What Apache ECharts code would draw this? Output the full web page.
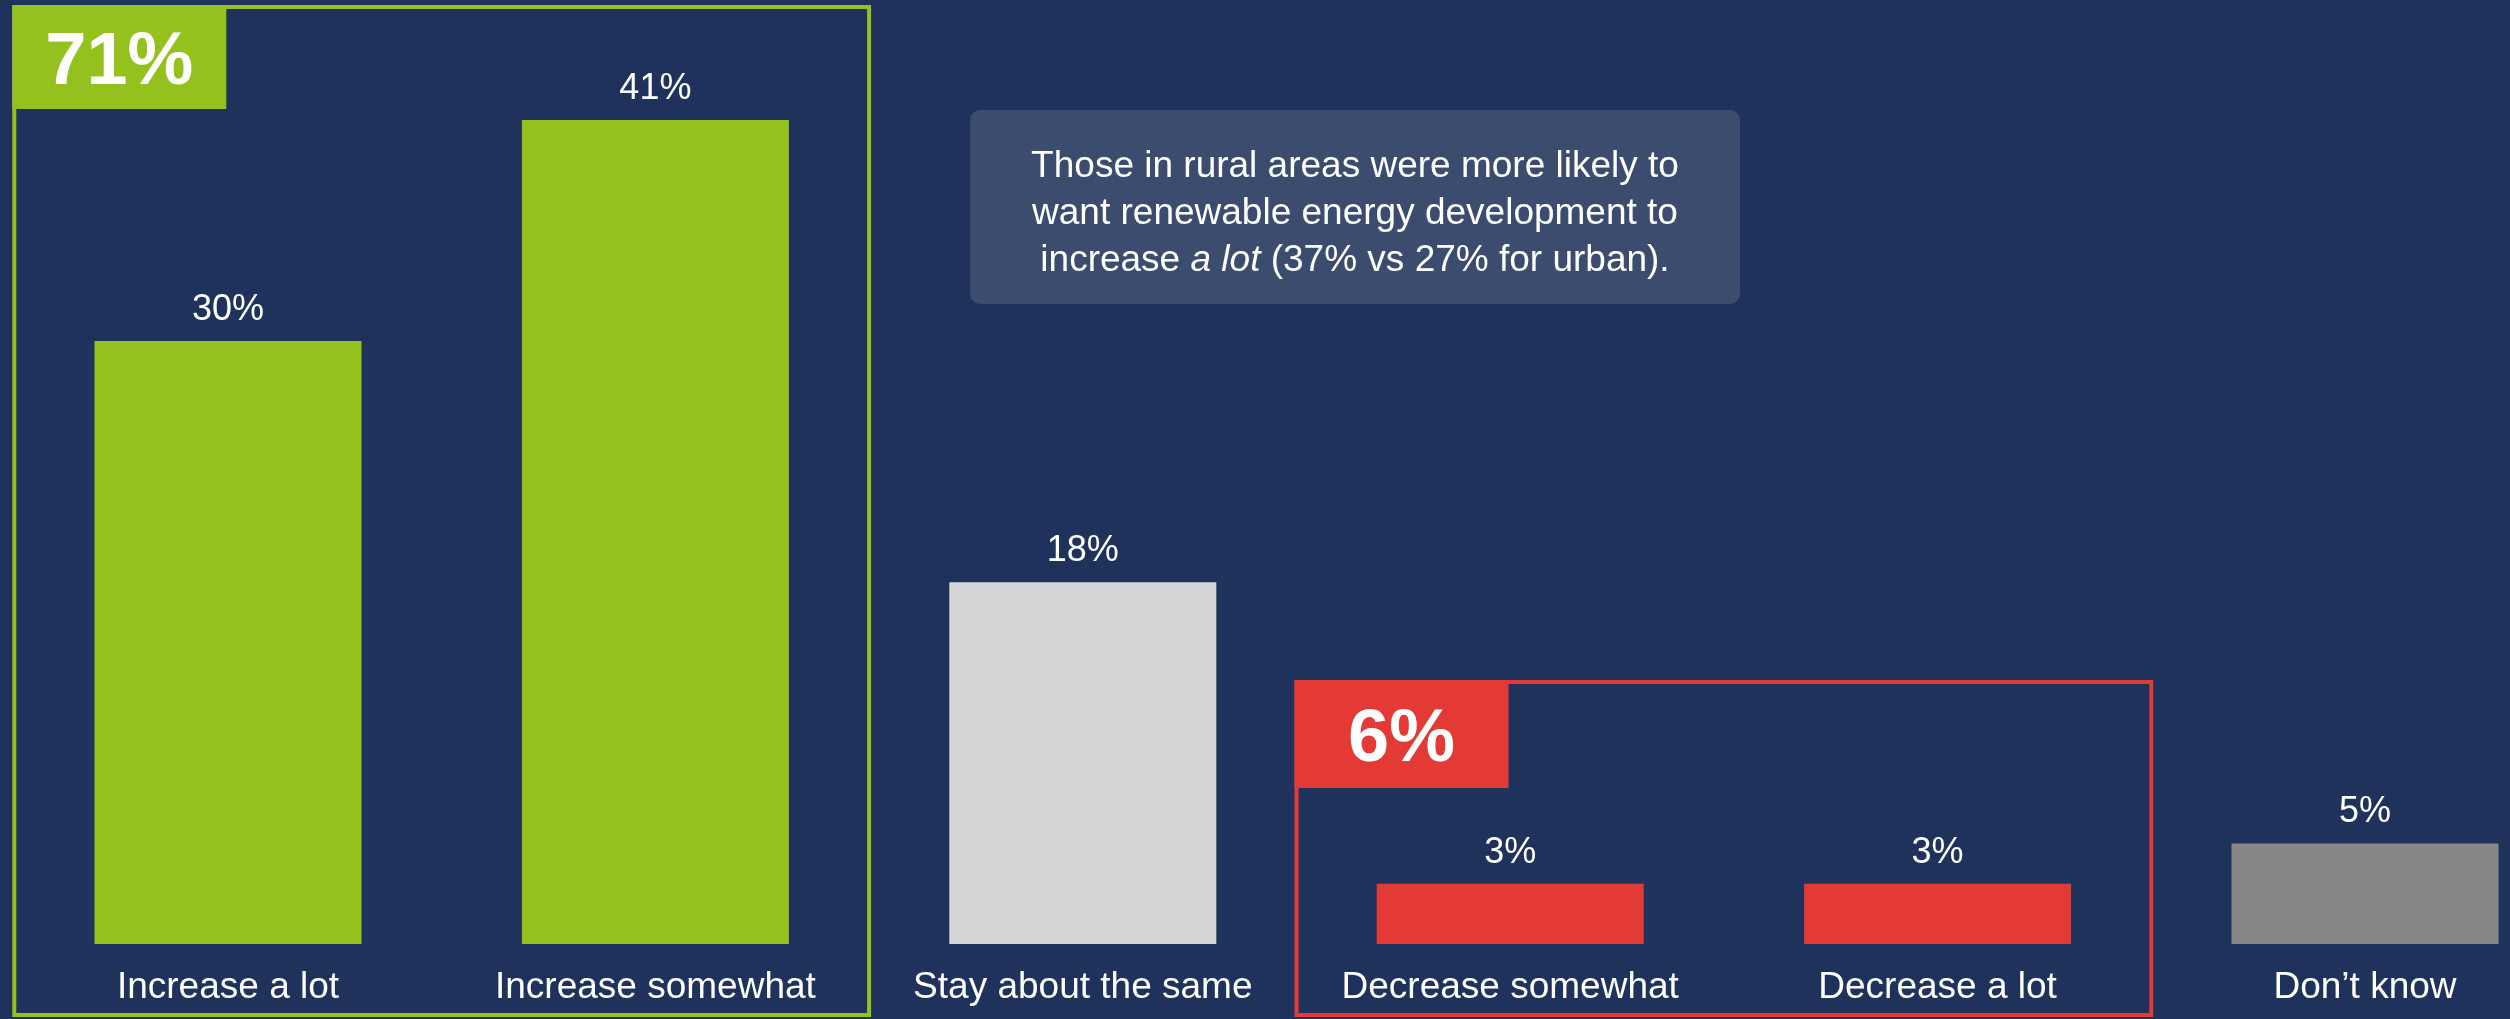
<!DOCTYPE html>
<html>
<head>
<meta charset="utf-8">
<style>
html,body{margin:0;padding:0;background:#1F325B;}
#c{width:2510px;height:1019px;}
</style>
<script src="https://cdn.jsdelivr.net/npm/echarts@6/dist/echarts.min.js"></script>
</head>
<body>
<div id="c"></div>
<script>
const categories = ['Increase a lot', 'Increase somewhat', 'Stay about the same', 'Decrease somewhat', 'Decrease a lot', 'Don\u2019t know'];
const values = [30, 41, 18, 3, 3, 5];
const barColors = ['#95C11F', '#95C11F', '#D6D6D6', '#E43A36', '#E43A36', '#878787'];
const groupLabels = ['71%', '6%'];
const groupColors = ['#95C11F', '#E43A36'];
const groupRanges = [[0, 1], [3, 4]];
const noteText = 'Those in rural areas were more likely to\nwant renewable energy development to\nincrease {i|a lot} (37% vs 27% for urban).';

const FONT = '"Liberation Sans", Arial, sans-serif';
const chart = echarts.init(document.getElementById('c'), null, {renderer: 'canvas'});

const option = {
  backgroundColor: '#1F325B',
  animation: false,
  grid: {left: 14.3, top: 39.5, right: -68.7, height: 904.5, containLabel: false, outerBoundsMode: 'none'},
  xAxis: {
    type: 'category',
    data: categories,
    axisLine: {show: false},
    axisTick: {show: false},
    axisLabel: {color: '#FFFFFF', fontSize: 37, fontFamily: FONT, margin: 25, interval: 0}
  },
  yAxis: {
    type: 'value', min: 0, max: 45,
    show: false,
    splitLine: {show: false}
  },
  series: [{
    type: 'bar',
    data: values.map((v, i) => ({value: v, itemStyle: {color: barColors[i]}})),
    barWidth: 267,
    label: {
      show: true, position: 'top', distance: 13,
      formatter: p => p.value + '%',
      color: '#FFFFFF', fontSize: 36, fontFamily: FONT
    }
  }]
};
chart.setOption(option);

function buildGraphics() {
  const c0 = chart.convertToPixel({xAxisIndex: 0}, 0);
  const c1 = chart.convertToPixel({xAxisIndex: 0}, 1);
  const band = c1 - c0;
  const frameTops = [7, 682];
  const bottom = 1015;
  const g = [];
  groupRanges.forEach((r, k) => {
    const x0 = chart.convertToPixel({xAxisIndex: 0}, r[0]) - band / 2;
    const x1 = chart.convertToPixel({xAxisIndex: 0}, r[1]) + band / 2;
    const top = frameTops[k];
    g.push({
      type: 'rect', z: 10,
      shape: {x: x0, y: top, width: x1 - x0, height: bottom - top},
      style: {fill: null, stroke: groupColors[k], lineWidth: 4}
    });
    const bw = 214, bh = k === 0 ? 104 : 108;
    g.push({
      type: 'rect', z: 11,
      shape: {x: x0 - 2, y: top - 2, width: bw, height: bh},
      style: {fill: groupColors[k]}
    });
    g.push({
      type: 'text', z: 12,
      x: x0 - 2 + bw / 2, y: top - 2 + bh / 2 + 7,
      style: {
        text: groupLabels[k], fill: '#FFFFFF', fontSize: 74, fontWeight: 'bold',
        fontFamily: FONT, align: 'center', verticalAlign: 'middle'
      }
    });
  });
  // note box
  g.push({
    type: 'rect', z: 5,
    shape: {x: 970, y: 110, width: 770, height: 194, r: 10},
    style: {fill: '#3B4C6F'}
  });
  g.push({
    type: 'text', z: 6,
    x: 1355, y: 214,
    style: {
      text: noteText, fill: '#FFFFFF', fontSize: 37, fontFamily: FONT,
      lineHeight: 47, align: 'center', verticalAlign: 'middle',
      rich: {i: {fontStyle: 'italic', fontSize: 37, fontFamily: FONT, fill: '#FFFFFF', lineHeight: 47}}
    }
  });
  chart.setOption({graphic: g});
}
buildGraphics();
</script>
</body>
</html>
